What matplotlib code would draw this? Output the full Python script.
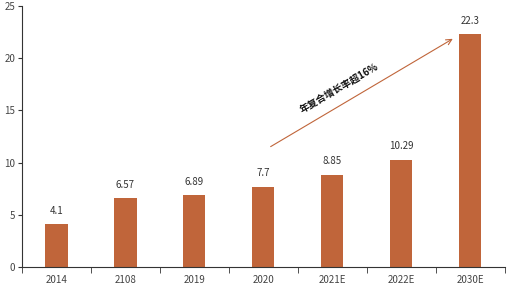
import numpy as np
import matplotlib.pyplot as plt

plt.rcParams['font.family'] = ['Noto Sans CJK SC', 'DejaVu Sans']

# Data
years = ['2014', '2108', '2019', '2020', '2021E', '2022E', '2030E']
values = [4.1, 6.57, 6.89, 7.7, 8.85, 10.29, 22.3]
labels = ['4.1', '6.57', '6.89', '7.7', '8.85', '10.29', '22.3']

bar_color = '#C0653A'
x = np.arange(len(years))

fig = plt.figure(figsize=(5.12, 2.89), dpi=100)
ax = fig.add_axes([0.043, 0.076, 0.943, 0.903])

ax.bar(x, values, width=0.32, color=bar_color)
for xi, v, lab in zip(x, values, labels):
    ax.text(xi, v + 0.8, lab, ha='center', va='bottom', fontsize=7, color='#333333')

ax.set_xlim(-0.5, len(years) - 0.5)
ax.set_ylim(0, 25)
ax.set_yticks([0, 5, 10, 15, 20, 25])
ax.set_xticks(x)
ax.set_xticklabels(years)
ax.set_xticks(np.arange(-0.5, len(years), 1), minor=True)
ax.tick_params(axis='x', which='major', length=0, labelsize=7, colors='#444444', pad=6)
ax.tick_params(axis='x', which='minor', length=4, color='#333333')
ax.tick_params(axis='y', length=3, labelsize=7, colors='#444444', pad=2)
ax.tick_params(axis='y', color='#333333')

for s in ['top', 'right']:
    ax.spines[s].set_visible(False)
ax.spines['left'].set_color('#333333')
ax.spines['bottom'].set_color('#333333')
ax.spines['left'].set_linewidth(0.8)
ax.spines['bottom'].set_linewidth(0.8)

# Growth arrow
ax.annotate('', xy=(5.78, 22.0), xytext=(3.07, 11.4),
            arrowprops=dict(arrowstyle='->', color='#C0653A', lw=0.8))
ax.text(4.1, 17.1, '年复合增长率超16%', rotation=30, ha='center', va='center',
        fontsize=7, fontweight='bold', color='#111111')

fig.savefig('out.png', dpi=100)
